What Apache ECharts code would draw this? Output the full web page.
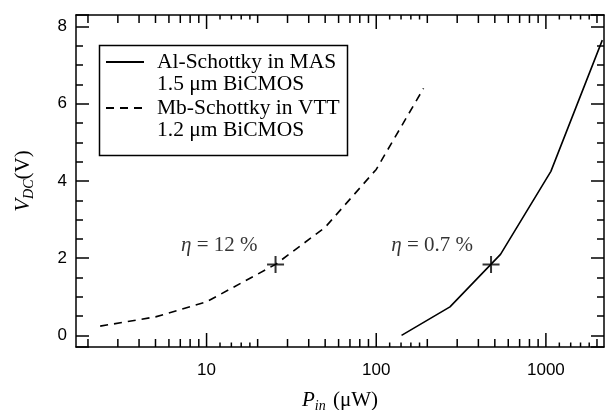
<!DOCTYPE html>
<html><head><meta charset="utf-8">
<script src="https://cdn.jsdelivr.net/npm/echarts@6/dist/echarts.min.js"></script>
<style>html,body{margin:0;padding:0;background:#fff}#c{width:605px;height:410px}</style>
</head><body><div id="c"></div>
<script>
// ---- data ----
const seriesNames = ['Al-Schottky in MAS', 'Mb-Schottky in VTT'];
const seriesSub = ['1.5 μm BiCMOS', '1.2 μm BiCMOS'];
const alP = [141, 272, 540, 1070, 2150];
const alV = [0, 0.74, 2.1, 4.25, 7.65];
const mbP = [2.36, 5, 10, 25.5, 50, 100, 190];
const mbV = [0.24, 0.48, 0.87, 1.84, 2.8, 4.3, 6.4];
const crossP = [25.5, 475];
const crossV = [1.84, 1.84];
const crossText = ['12 %', '0.7 %'];
const xLabelValues = [10, 100, 1000];
const majorXTicks = [10, 100, 1000];
const midXTicks = [2,3,4,5,6,7,8,9,20,30,40,50,60,70,80,90,200,300,400,500,600,700,800,900,2000];
const smallXTicks = [12,14,16,18,120,140,160,180,1200,1400,1600,1800];

const SERIF = 'Liberation Serif';
const SANS = 'Liberation Sans';
const chart = echarts.init(document.getElementById('c'));

function tickSeries(vals, len) {
  return {
    type: 'custom', xAxisIndex: 0, yAxisIndex: 0, silent: true, clip: false,
    data: vals.map(v => [v, 0]),
    renderItem: function (params, api) {
      const x = api.coord([api.value(0), 0])[0];
      const cs = params.coordSys;
      const st = { stroke: '#000', lineWidth: 1.5 };
      return { type: 'group', children: [
        { type: 'line', shape: { x1: x, y1: cs.y + cs.height, x2: x, y2: cs.y + cs.height - len }, style: st },
        { type: 'line', shape: { x1: x, y1: cs.y, x2: x, y2: cs.y + len }, style: st }
      ]};
    }
  };
}

const xBase = {
  type: 'log', logBase: 10, min: 1.7, max: 2200,
  axisLine: { show: true, onZero: false, lineStyle: { color: '#000', width: 1.5 } },
  axisTick: { show: false }, minorTick: { show: false },
  splitLine: { show: false }, minorSplitLine: { show: false }
};
const yBase = {
  type: 'value', min: -0.3, max: 8.3, splitNumber: 4,
  axisLine: { show: true, onZero: false, lineStyle: { color: '#000', width: 1.5 } },
  axisTick: { show: true, inside: true, length: 13, lineStyle: { color: '#000', width: 1.5 } },
  minorTick: { show: true, splitNumber: 4, length: 7, lineStyle: { color: '#000', width: 1.5 } },
  splitLine: { show: false }
};

chart.setOption({
  animation: false,
  backgroundColor: '#fff',
  grid: { left: 76, right: 1, top: 15, bottom: 63, outerBoundsMode: 'none', containLabel: false },
  xAxis: [
    Object.assign({}, xBase, {
      position: 'bottom',
      axisLabel: {
        color: '#000', fontFamily: SANS, fontSize: 17, margin: 15,
        showMinLabel: false, showMaxLabel: false,
        formatter: v => xLabelValues.includes(Math.round(v)) ? String(Math.round(v)) : ''
      },
      name: '{v|P}{s|in} (μW)', nameLocation: 'middle', nameGap: 41,
      nameTextStyle: {
        color: '#000', fontFamily: SERIF, fontSize: 21,
        rich: {
          v: { fontFamily: SERIF, fontStyle: 'italic', fontSize: 21, color: '#000' },
          s: { fontFamily: SERIF, fontStyle: 'italic', fontSize: 14, color: '#000', verticalAlign: 'top', padding: [11, 2, 0, 0] }
        }
      }
    }),
    Object.assign({}, xBase, { position: 'top', axisLabel: { show: false } })
  ],
  yAxis: [
    Object.assign({}, yBase, {
      position: 'left',
      axisLabel: { color: '#000', fontFamily: SANS, fontSize: 17, margin: 9, showMinLabel: false, showMaxLabel: false },
      name: '{v|V}{s|DC}(V)', nameLocation: 'middle', nameRotate: 90, nameGap: 40,
      nameTextStyle: {
        color: '#000', fontFamily: SERIF, fontSize: 21,
        rich: {
          v: { fontFamily: SERIF, fontStyle: 'italic', fontSize: 21, color: '#000' },
          s: { fontFamily: SERIF, fontStyle: 'italic', fontSize: 14, color: '#000', verticalAlign: 'top', padding: [11, 0, 0, 0] }
        }
      }
    }),
    Object.assign({}, yBase, { position: 'right', axisLabel: { show: false } })
  ],
  legend: {
    orient: 'vertical', left: 105, top: 28.25, padding: 0, itemGap: -21.5,
    itemWidth: 38, itemHeight: 14,
    data: seriesNames,
    itemStyle: { color: 'rgba(0,0,0,0)', borderWidth: 0, opacity: 0 },
    formatter: name => '\n' + name + '\n' + seriesSub[seriesNames.indexOf(name)],
    textStyle: { color: '#000', fontFamily: SERIF, fontSize: 21.5, lineHeight: 22.5, padding: [0, 0, 0, 8] }
  },
  graphic: [{
    type: 'rect', left: 97, top: 43, silent: true,
    shape: { width: 248, height: 110 },
    style: { fill: 'none', stroke: '#000', lineWidth: 1.5 }
  }],
  series: [
    {
      name: seriesNames[0], type: 'line', symbol: 'none', xAxisIndex: 0, yAxisIndex: 0,
      data: alP.map((p, i) => [p, alV[i]]),
      lineStyle: { color: '#000', width: 1.6, type: 'solid' }, itemStyle: { color: '#000' }
    },
    {
      name: seriesNames[1], type: 'line', symbol: 'none', xAxisIndex: 0, yAxisIndex: 0,
      data: mbP.map((p, i) => [p, mbV[i]]),
      lineStyle: { color: '#000', width: 1.6, type: [8, 6] }, itemStyle: { color: '#000' }
    },
    {
      name: 'cross', type: 'scatter', xAxisIndex: 0, yAxisIndex: 0,
      symbol: 'path://M0,8L16,8M8,0L8,16', symbolSize: 17,
      itemStyle: { color: 'none', borderColor: '#000', borderWidth: 2 },
      data: crossP.map((p, i) => ({ value: [p, crossV[i]], label: { formatter: '{e|η} = ' + crossText[i] } })),
      label: {
        show: true, position: 'left', distance: 7, offset: [0, -19],
        color: '#000', fontFamily: SERIF, fontSize: 21,
        rich: { e: { fontFamily: SERIF, fontStyle: 'italic', fontSize: 21, color: '#000' } }
      }
    },
    tickSeries(majorXTicks, 14),
    tickSeries(midXTicks, 8),
    tickSeries(smallXTicks, 4.5)
  ]
});
</script></body></html>
